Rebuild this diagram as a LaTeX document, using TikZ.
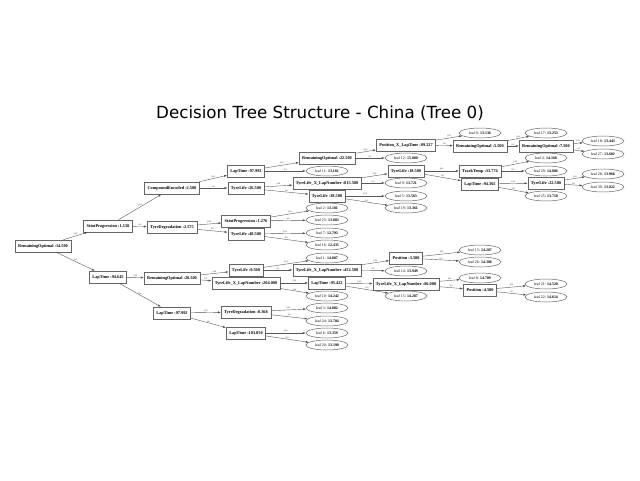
\documentclass[tikz,border=0pt]{standalone}
\usepackage{fontspec}
\setmainfont{Liberation Serif}
\newfontfamily\titlefont{DejaVu Sans}
\usetikzlibrary{shapes.geometric,arrows.meta}
\newcommand\yn[3]{\draw[edge] (#1) -- node[elab]{#3} (#2);}
\begin{document}
\begin{tikzpicture}[x=1pt,y=-1pt,
 dbox/.style={draw=black!60,line width=0.55pt,rectangle,inner xsep=3pt,minimum height=12pt,inner ysep=0pt,font=\fontsize{4.3}{5}\selectfont\bfseries},
 leaf/.style={draw=black!60,line width=0.5pt,ellipse,minimum width=42pt,minimum height=10pt,inner sep=0pt,font=\fontsize{3.9}{4.5}\selectfont},
 edge/.style={draw=black!65,line width=0.4pt,-{Latex[length=3pt,width=2pt,fill=black]}},
 elab/.style={font=\fontsize{2.8}{3}\selectfont,text=black!70,inner sep=0.6pt,above,midway}]
\useasboundingbox (0,0) rectangle (640,480);
\node[font=\titlefont\fontsize{16.7}{20}\selectfont] (title) at (320,113) {Decision Tree Structure - China (Tree 0)};
% rank 0-2
\node[dbox] (r) at (43,246) {RemainingOptimal :14.500};
\node[dbox] (a) at (108,226) {StintProgression :1.138};
\node[dbox] (b) at (108,277) {LapTime :94.645};
\node[dbox] (aa) at (172,188) {CompoundEncoded :2.500};
\node[dbox] (ab) at (172,227) {TyreDegradation :2.575};
\node[dbox] (ba) at (172,278) {RemainingOptimal :20.500};
\node[dbox] (bb) at (172,313) {LapTime :97.992};
% rank 3
\node[dbox] (aaa) at (246,171) {LapTime :97.992};
\node[dbox] (aab) at (246,188) {TyreLife :26.500};
\node[dbox] (aba) at (246,221) {StintProgression :1.276};
\node[dbox] (abb) at (246,234) {TyreLife :48.500};
\node[dbox] (baa) at (246,270) {TyreLife :9.500};
\node[dbox] (bab) at (246,283) {TyreLife\_X\_LapNumber :204.000};
\node[dbox] (bba) at (246,312) {TyreDegradation :0.368};
\node[dbox] (bbb) at (246,333) {LapTime :103.850};
% rank 4
\node[dbox] (aaaa) at (327,158) {RemainingOptimal :22.500};
\node[leaf] (l11) at (327,171) {leaf 11: \textbf{13.181}};
\node[dbox] (aaba) at (327,183) {TyreLife\_X\_LapNumber :815.500};
\node[dbox] (aabb) at (327,196) {TyreLife :38.500};
\node[leaf] (l2) at (327,208) {leaf 2: \textbf{13.181}};
\node[leaf] (l23) at (327,220) {leaf 23: \textbf{13.083}};
\node[leaf] (l7) at (327,233) {leaf 7: \textbf{12.793}};
\node[leaf] (l16) at (327,245) {leaf 16: \textbf{12.435}};
\node[leaf] (l1) at (327,258) {leaf 1: \textbf{14.007}};
\node[dbox] (baab) at (327,270) {TyreLife\_X\_LapNumber :452.500};
\node[dbox] (baba) at (327,283) {LapTime :95.422};
\node[leaf] (l10) at (327,296) {leaf 10: \textbf{14.242}};
\node[leaf] (l3) at (327,308) {leaf 3: \textbf{14.002}};
\node[leaf] (l24) at (327,321) {leaf 24: \textbf{13.784}};
\node[leaf] (l6) at (327,333) {leaf 6: \textbf{13.359}};
\node[leaf] (l20) at (327,345) {leaf 20: \textbf{13.190}};
% rank 5
\node[dbox] (p1) at (406,145) {Position\_X\_LapTime :89.227};
\node[leaf] (l12) at (406,158) {leaf 12: \textbf{15.000}};
\node[dbox] (t185) at (406,171) {TyreLife :18.500};
\node[leaf] (l9) at (406,183) {leaf 9: \textbf{13.721}};
\node[leaf] (l5) at (406,196) {leaf 5: \textbf{13.563}};
\node[leaf] (l19) at (406,208) {leaf 19: \textbf{13.361}};
\node[dbox] (pos35) at (406,258) {Position :3.500};
\node[leaf] (l14) at (406,271) {leaf 14: \textbf{13.949}};
\node[dbox] (tx86) at (406,284) {TyreLife\_X\_LapNumber :86.000};
\node[leaf] (l15) at (406,296) {leaf 15: \textbf{14.287}};
% rank 6
\node[leaf] (l0) at (480,133) {leaf 0: \textbf{13.136}};
\node[dbox] (ro55) at (480,146) {RemainingOptimal :5.500};
\node[dbox] (tt) at (480,171) {TrackTemp :33.774};
\node[dbox] (lt943) at (480,184) {LapTime :94.302};
\node[leaf] (l13) at (480,250) {leaf 13: \textbf{14.287}};
\node[leaf] (l26) at (480,262) {leaf 26: \textbf{14.386}};
\node[leaf] (l8) at (480,278) {leaf 8: \textbf{14.789}};
\node[dbox] (pos45) at (480,290) {Position :4.500};
% rank 7
\node[leaf] (l17) at (546,133) {leaf 17: \textbf{13.253}};
\node[dbox] (ro75) at (546,146) {RemainingOptimal :7.500};
\node[leaf] (l4) at (546,158) {leaf 4: \textbf{14.168}};
\node[leaf] (l29) at (546,171) {leaf 29: \textbf{14.006}};
\node[dbox] (t225) at (546,183) {TyreLife :22.500};
\node[leaf] (l25) at (546,196) {leaf 25: \textbf{13.710}};
\node[leaf] (l21) at (546,284) {leaf 21: \textbf{14.520}};
\node[leaf] (l22) at (546,297) {leaf 22: \textbf{14.614}};
% rank 8
\node[leaf] (l18) at (603,141) {leaf 18: \textbf{13.443}};
\node[leaf] (l27) at (603,154) {leaf 27: \textbf{13.602}};
\node[leaf] (l28) at (603,174) {leaf 28: \textbf{13.966}};
\node[leaf] (l30) at (603,187) {leaf 30: \textbf{13.822}};
% edges
\yn{r}{a}{yes} \yn{r}{b}{no}
\yn{a}{aa}{yes} \yn{a}{ab}{no}
\yn{b}{ba}{yes} \yn{b}{bb}{no}
\yn{aa}{aaa}{yes} \yn{aa}{aab}{no}
\yn{ab}{aba}{yes} \yn{ab}{abb}{no}
\yn{ba}{baa}{yes} \yn{ba}{bab}{no}
\yn{bb}{bba}{yes} \yn{bb}{bbb}{no}
\yn{aaa}{aaaa}{yes} \yn{aaa}{l11}{no}
\yn{aab}{aaba}{yes} \yn{aab}{aabb}{no}
\yn{aba}{l2}{yes} \yn{aba}{l23}{no}
\yn{abb}{l7}{yes} \yn{abb}{l16}{no}
\yn{baa}{l1}{yes} \yn{baa}{baab}{no}
\yn{bab}{baba}{yes} \yn{bab}{l10}{no}
\yn{bba}{l3}{yes} \yn{bba}{l24}{no}
\yn{bbb}{l6}{yes} \yn{bbb}{l20}{no}
\yn{aaaa}{p1}{yes} \yn{aaaa}{l12}{no}
\yn{aaba}{t185}{yes} \yn{aaba}{l9}{no}
\yn{aabb}{l5}{yes} \yn{aabb}{l19}{no}
\yn{baab}{pos35}{yes} \yn{baab}{l14}{no}
\yn{baba}{tx86}{yes} \yn{baba}{l15}{no}
\yn{p1}{l0}{yes} \yn{p1}{ro55}{no}
\yn{t185}{tt}{yes} \yn{t185}{lt943}{no}
\yn{pos35}{l13}{yes} \yn{pos35}{l26}{no}
\yn{tx86}{l8}{yes} \yn{tx86}{pos45}{no}
\yn{ro55}{l17}{yes} \yn{ro55}{ro75}{no}
\yn{tt}{l4}{yes} \yn{tt}{l29}{no}
\yn{lt943}{t225}{yes} \yn{lt943}{l25}{no}
\yn{pos45}{l21}{yes} \yn{pos45}{l22}{no}
\yn{ro75}{l18}{yes} \yn{ro75}{l27}{no}
\yn{t225}{l28}{yes} \yn{t225}{l30}{no}
\end{tikzpicture}
\end{document}
